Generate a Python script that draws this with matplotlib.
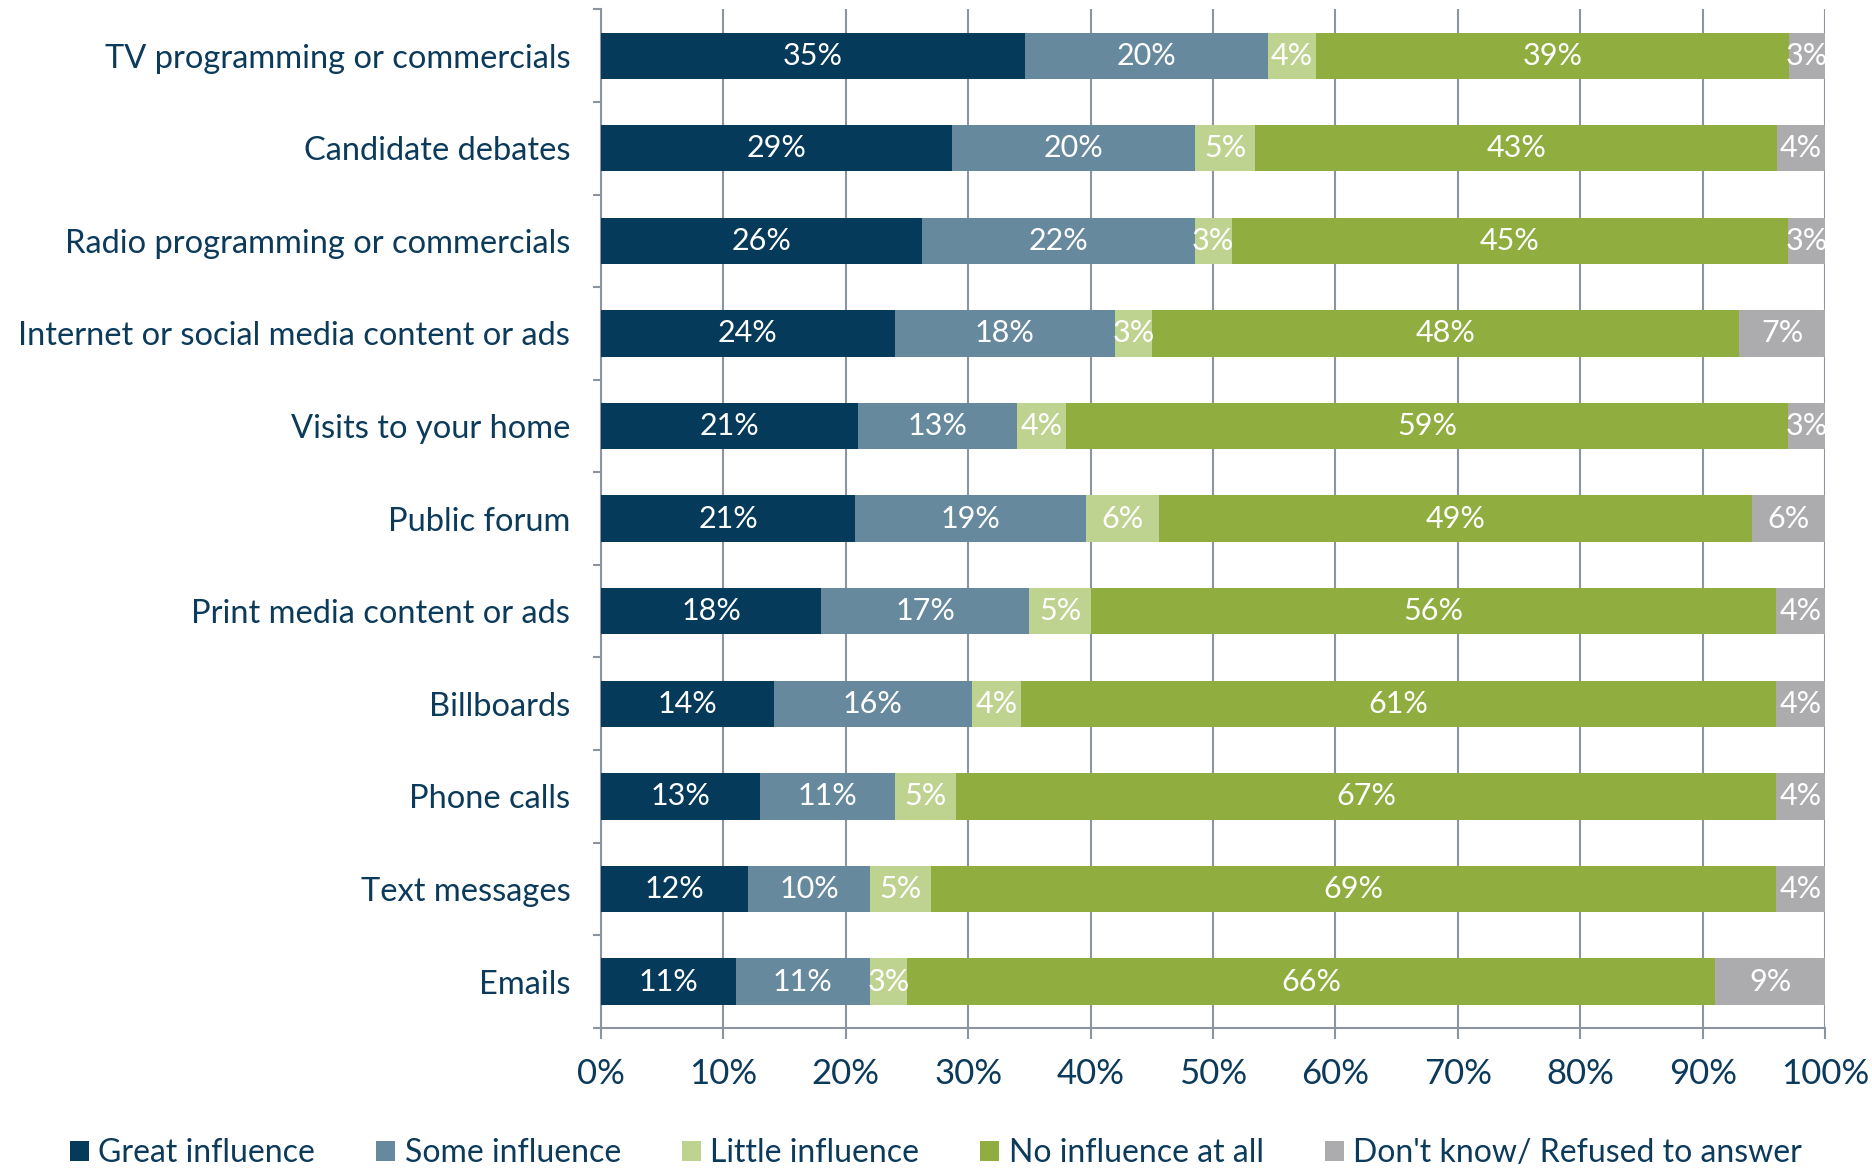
import numpy as np
import matplotlib
matplotlib.use('Agg')
import matplotlib.pyplot as plt

categories = ['TV programming or commercials', 'Candidate debates',
              'Radio programming or commercials', 'Internet or social media content or ads',
              'Visits to your home', 'Public forum', 'Print media content or ads',
              'Billboards', 'Phone calls', 'Text messages', 'Emails']
great = [35, 29, 26, 24, 21, 21, 18, 14, 13, 12, 11]
some = [20, 20, 22, 18, 13, 19, 17, 16, 11, 10, 11]
little = [4, 5, 3, 3, 4, 6, 5, 4, 5, 5, 3]
none_ = [39, 43, 45, 48, 59, 49, 56, 61, 67, 69, 66]
dk = [3, 4, 3, 7, 3, 6, 4, 4, 4, 4, 9]

series_names = ['Great influence', 'Some influence', 'Little influence',
                'No influence at all', "Don't know/ Refused to answer"]
colors = ['#053a5a', '#67899e', '#bfd391', '#8fae3f', '#acacae']

text_col = '#0b3a5b'
grid_col = '#8b949f'

plt.rcParams['font.family'] = ['Lato', 'DejaVu Sans']

data = np.array([great, some, little, none_, dk], dtype=float)
widths = data / data.sum(axis=0) * 100

fig = plt.figure(figsize=(18.72, 11.72), dpi=100)
ax = fig.add_axes([0.321, 0.123, 0.654, 0.869])

y = np.arange(len(categories))[::-1]
left = np.zeros(len(categories))
for i in range(5):
    bars = ax.barh(y, widths[i], left=left, height=0.5, color=colors[i],
                   label=series_names[i], zorder=3)
    ax.bar_label(bars, labels=['%d%%' % v for v in data[i]], label_type='center',
                 color='white', fontsize=22, zorder=4)
    left += widths[i]

ax.set_xlim(0, 100)
ax.set_ylim(-0.5, len(categories) - 0.5)
ax.set_xticks(np.arange(0, 101, 10))
ax.set_xticklabels(['%d%%' % v for v in range(0, 101, 10)])
ax.xaxis.grid(True, color=grid_col, linewidth=1.5, zorder=0)
ax.set_yticks(y)
ax.set_yticklabels(categories)
ax.set_yticks(np.arange(-0.5, len(categories), 1), minor=True)

ax.tick_params(axis='x', length=8, width=1.5, color=grid_col, labelsize=25,
               labelcolor=text_col, pad=14)
ax.tick_params(axis='y', which='major', length=0, labelsize=23.5,
               labelcolor=text_col, pad=22)
ax.tick_params(axis='y', which='minor', length=6, width=1.5, color=grid_col)

for s in ['top', 'right']:
    ax.spines[s].set_visible(False)
for s in ['left', 'bottom']:
    ax.spines[s].set_color(grid_col)
    ax.spines[s].set_linewidth(1.5)

leg = fig.legend(loc='center', bbox_to_anchor=(0.5, 0.016), ncol=5, frameon=False,
                 fontsize=23, handlelength=0.6, handleheight=0.6, handletextpad=0.3,
                 columnspacing=1.9)
for t in leg.get_texts():
    t.set_color(text_col)

fig.savefig('out.png', dpi=100)
